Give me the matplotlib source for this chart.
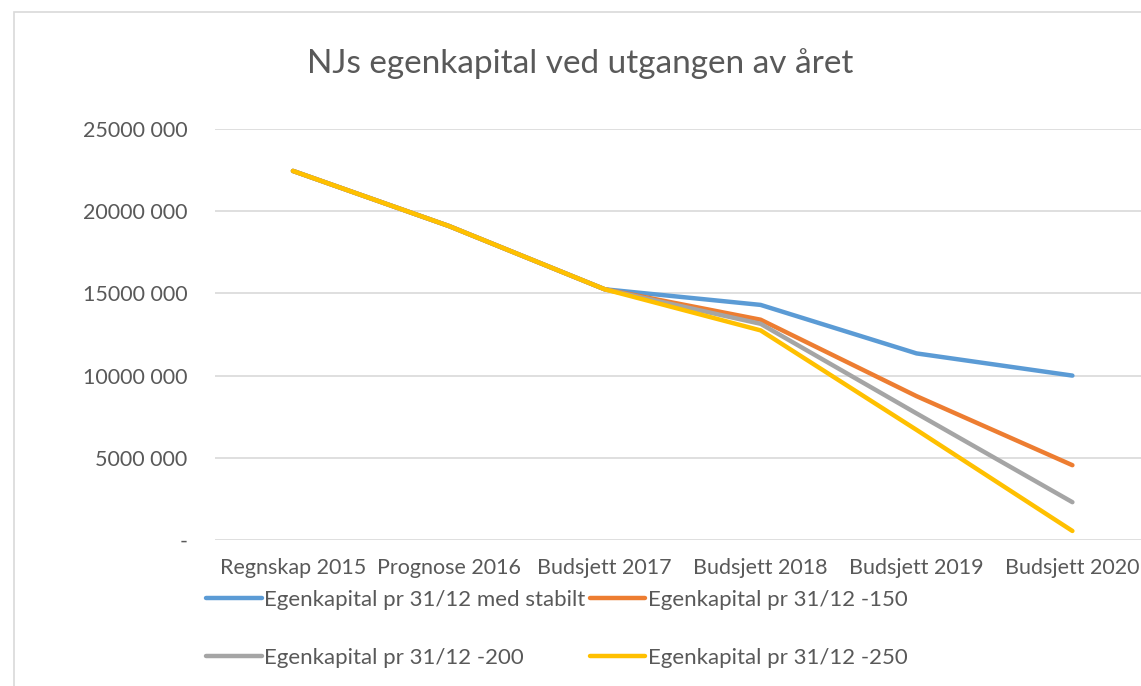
import matplotlib
matplotlib.use("Agg")
import matplotlib.pyplot as plt
from matplotlib.patches import Rectangle

plt.rcParams['font.family'] = ['Lato', 'DejaVu Sans']

CATEGORIES = ['Regnskap 2015', 'Prognose 2016', 'Budsjett 2017',
              'Budsjett 2018', 'Budsjett 2019', 'Budsjett 2020']

# values in NOK
STABILT = [22450000, 19100000, 15250000, 14300000, 11350000, 10000000]
MINUS_150 = [22450000, 19100000, 15250000, 13400000, 8750000, 4550000]
MINUS_200 = [22450000, 19100000, 15250000, 13150000, 7700000, 2300000]
MINUS_250 = [22450000, 19100000, 15250000, 12750000, 6700000, 550000]

SERIES = [
    ('Egenkapital pr 31/12 med stabilt', STABILT, '#5b9bd5'),
    ('Egenkapital pr 31/12 -150', MINUS_150, '#ed7d31'),
    ('Egenkapital pr 31/12 -200', MINUS_200, '#a5a5a5'),
    ('Egenkapital pr 31/12 -250', MINUS_250, '#ffc000'),
]

Y_TICKS = [0, 5000000, 10000000, 15000000, 20000000, 25000000]
Y_TICK_LABELS = ['-', '5000 000', '10000 000', '15000 000', '20000 000', '25000 000']

W, H = 1141, 686
fig = plt.figure(figsize=(W / 100, H / 100), dpi=100)

# chart frame (cropped at right/bottom)
fig.patches.append(Rectangle((14 / W, -0.1), 1.2, 1 - 12 / H + 0.1,
                             transform=fig.transFigure, fill=False,
                             edgecolor='#d9d9d9', lw=1.2))

ax = fig.add_axes([215 / W, 1 - 540 / H, (1141 - 215) / W, (540 - 129) / H])
x = list(range(len(CATEGORIES)))
handles = []
for label, vals, color in SERIES:
    ln, = ax.plot(x, vals, '-', color=color, lw=3.2, label=label,
                  solid_capstyle='round', solid_joinstyle='round')
    handles.append(ln)

ax.set_xlim(-0.5, 5.44)
ax.set_ylim(0, 25000000)
ax.set_yticks(Y_TICKS)
ax.set_yticklabels(Y_TICK_LABELS)
ax.set_xticks(x)
ax.set_xticklabels(CATEGORIES)
ax.grid(axis='y', color='#d9d9d9', lw=1.2)
ax.set_axisbelow(True)
for s in ax.spines.values():
    s.set_visible(False)
ax.tick_params(length=0, labelsize=15.5, colors='#595959')
ax.tick_params(axis='y', pad=20)
ax.tick_params(axis='x', pad=13)

fig.text(580 / W, 1 - 64 / H, 'NJs egenkapital ved utgangen av året',
         ha='center', va='center', fontsize=24, color='#595959')

# row-major order like Excel: (blue, orange) / (gray, yellow)
order = [0, 2, 1, 3]
leg = ax.legend([handles[i] for i in order], [SERIES[i][0] for i in order],
                loc='upper left', bbox_to_anchor=(206 / W, 1 - 590 / H),
                bbox_transform=fig.transFigure, ncol=2, frameon=False,
                fontsize=16, handlelength=2.5, handletextpad=0.12,
                columnspacing=0.2, labelspacing=1.7, borderaxespad=0,
                borderpad=0)
for t in leg.get_texts():
    t.set_color('#595959')

fig.savefig('out.png', dpi=100)
